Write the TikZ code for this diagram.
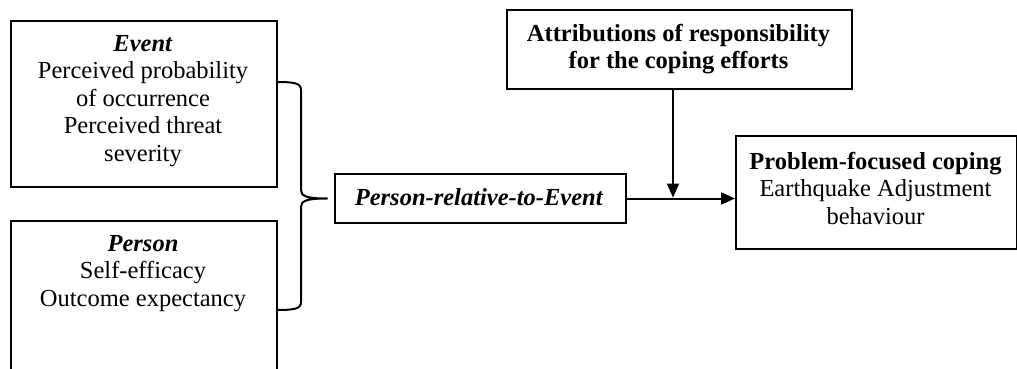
\documentclass[tikz,border=0pt]{standalone}
\usepackage{fontspec}
\setmainfont{Liberation Serif}
\usetikzlibrary{arrows.meta}
\begin{document}
\begin{tikzpicture}[x=1pt,y=-1pt,
  frame/.style={draw, line width=2pt, inner sep=0pt, anchor=north west},
  txt/.style={align=center, font=\fontsize{24.5}{27.5}\selectfont, inner sep=0pt},
  link/.style={line width=2pt},
  arr/.style={line width=2pt, -{Triangle[length=14pt,width=12pt]}}]
\useasboundingbox (0,0) rectangle (1017,369);
% frames
\node[frame, minimum width=266pt, minimum height=166pt] (event) at (10,20) {};
\node[frame, minimum width=266pt, minimum height=175pt] (person) at (10,220) {};
\node[frame, minimum width=291pt, minimum height=49pt] (pre) at (334,173) {};
\node[frame, minimum width=345pt, minimum height=79pt] (attr) at (506,9) {};
\node[frame, minimum width=281pt, minimum height=113pt] (coping) at (735,135) {};
% texts
\node[txt] (eventtxt) at (143,101) {\textbf{\textit{Event}}\\Perceived probability\\of occurrence\\Perceived threat\\severity};
\node[txt, anchor=north] (persontxt) at (143,235) {\textbf{\textit{Person}}\\Self-efficacy\\Outcome expectancy};
\node[txt] (pretxt) at (479,197.5) {\textbf{\textit{Person-relative-to-Event}}};
\node[txt] (attrtxt) at (678.5,49) {\textbf{Attributions of responsibility}\\\textbf{for the coping efforts}};
\node[txt] (copingtxt) at (875.5,188) {\textbf{Problem-focused coping}\\Earthquake Adjustment\\behaviour};
% brace
\coordinate (btop) at (276,82);
\coordinate (bbot) at (276,310);
\coordinate (btip) at (327,198.5);
\draw[link, line join=round] (btop) .. controls (294,82) and (301,83) .. (301,90)
  -- (301,190) .. controls (301,196) and (306,198.5) .. (btip)
  .. controls (306,198.5) and (301,201) .. (301,207)
  -- (301,302) .. controls (301,309) and (294,310) .. (bbot);
% arrows
\coordinate (join) at (673,197.5);
\draw[arr] (pre.east) -- (pre.east -| coping.west);
\draw[arr] (attr.south -| join) -- (join);
\end{tikzpicture}
\end{document}
